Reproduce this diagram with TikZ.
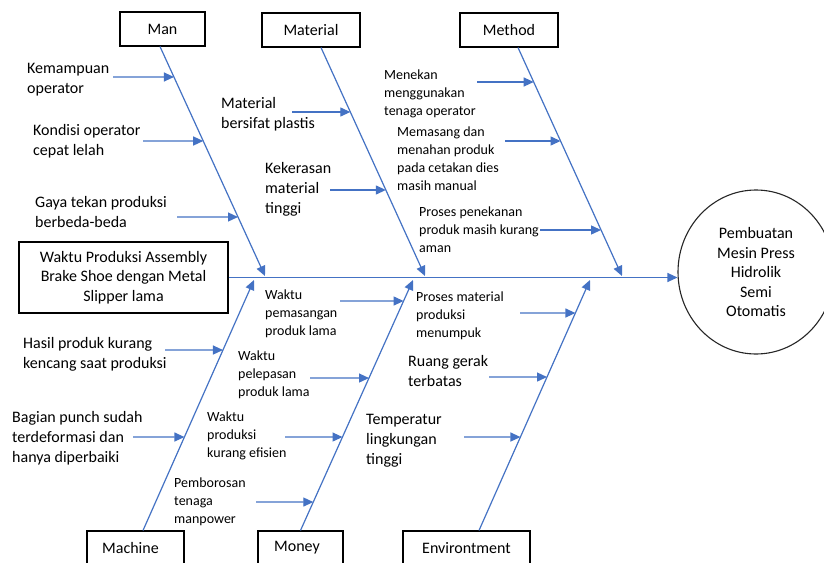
\documentclass[tikz,border=0pt]{standalone}
\usepackage{fontspec}
\setmainfont{Carlito}
\usetikzlibrary{arrows.meta,shapes.geometric}
\definecolor{bone}{HTML}{4472C4}
\begin{document}
\begin{tikzpicture}[x=1pt,y=-1pt,
  lbl/.style={font=\fontsize{16}{20}\selectfont,align=left,inner sep=0pt,anchor=base west},
  slbl/.style={font=\fontsize{14}{18.3}\selectfont,align=left,inner sep=0pt,anchor=base west},
  cat/.style={draw=black,line width=1.1pt,minimum height=34pt,inner sep=0pt,font=\fontsize{16}{20}\selectfont},
  bonel/.style={draw=bone,line width=1.2pt,-{Triangle[length=10pt,width=9pt]}},
  sub/.style={bonel}]
\useasboundingbox (0,0) rectangle (824,562);
\clip (0,0) rectangle (824,562);
\fill[white] (0,0) rectangle (824,562);

% category boxes
\node[cat,minimum width=85pt] (man) at (162.5,29) {Man};
\node[cat,minimum width=98pt] (mat) at (311,30) {Material};
\node[cat,minimum width=98pt] (meth) at (509,30) {Method};
\node[cat,minimum width=97pt] (mach) at (135.5,548) {\hspace*{-10pt}Machine};
\node[cat,minimum width=85pt] (money) at (300.5,548) {\hspace*{-7pt}Money};
\node[cat,minimum width=127pt] (env) at (466.5,548) {Environtment};

% problem and effect
\node[draw=black,line width=1.1pt,minimum width=209pt,minimum height=71pt,inner sep=0pt,align=center,font=\fontsize{16}{19.5}\selectfont] (prob) at (123.5,277.5) {Waktu Produksi Assembly\\Brake Shoe dengan Metal\\Slipper lama};
\node[ellipse,draw=black!85,line width=1.1pt,minimum width=156pt,minimum height=164pt,inner sep=0pt,align=center,font=\fontsize{16}{19.5}\selectfont] (eff) at (756,272) {Pembuatan\\Mesin Press\\Hidrolik\\Semi\\Otomatis};

% spine
\draw[bonel] (prob.east) -- (prob.east -| eff.west);

% bones
\coordinate (manS) at ([xshift=-2.5pt]man.south);
\coordinate (manT) at (265,276);
\coordinate (matS) at ([xshift=10pt]mat.south);
\coordinate (matT) at (425,276);
\coordinate (methS) at ([xshift=9pt]meth.south);
\coordinate (methT) at (622,276);
\coordinate (machS) at ([xshift=7.5pt]mach.north);
\coordinate (machT) at (254,280);
\coordinate (monS) at (money.north);
\coordinate (monT) at (413,280);
\coordinate (envS) at ([xshift=12.5pt]env.north);
\coordinate (envT) at (590,280);
\draw[bonel] (manS) -- (manT);
\draw[bonel] (matS) -- (matT);
\draw[bonel] (methS) -- (methT);
\draw[bonel] (machS) -- (machT);
\draw[bonel] (monS) -- (monT);
\draw[bonel] (envS) -- (envT);

% Man causes (anchor = baseline of last line)
\node[lbl] (c1) at (27,93) {Kemampuan\\operator};
\node[lbl] (c2) at (33,155) {Kondisi operator\\cepat lelah};
\node[lbl] (c3) at (35,227) {Gaya tekan produksi\\berbeda-beda};
\draw[sub] (113,77) -- (intersection of manS--manT and 113,77--200,77);
\draw[sub] (143,141) -- (intersection of manS--manT and 143,141--200,141);
\draw[sub] (177,217) -- (intersection of manS--manT and 177,217--200,217);

% Material causes
\node[lbl] (c4) at (221,128) {Material\\bersifat plastis};
\node[lbl] (c5) at (265,213) {Kekerasan\\material\\tinggi};
\draw[sub] (292,112) -- (intersection of matS--matT and 292,112--350,112);
\draw[sub] (330,190) -- (intersection of matS--matT and 330,190--380,190);

% Method causes
\node[slbl] (c6) at (384,115.6) {Menekan\\menggunakan\\tenaga operator};
\node[slbl] (c7) at (397,190.9) {Memasang dan\\menahan produk\\pada cetakan dies\\masih manual};
\node[slbl] (c8) at (419,252.6) {Proses penekanan\\produk masih kurang\\aman};
\draw[sub] (477,82) -- (intersection of methS--methT and 477,82--530,82);
\draw[sub] (505,141) -- (intersection of methS--methT and 505,141--560,141);
\draw[sub] (540,230) -- (intersection of methS--methT and 540,230--600,230);

% Machine causes
\node[lbl] (c9) at (23,368) {Hasil produk kurang\\kencang saat produksi};
\node[lbl] (c10) at (12,462) {Bagian punch sudah\\terdeformasi dan\\hanya diperbaiki};
\draw[sub] (165,350) -- (intersection of machS--machT and 165,350--220,350);
\draw[sub] (133,437) -- (intersection of machS--machT and 133,437--190,437);

% Money causes
\node[slbl] (c11) at (265,335.6) {Waktu\\pemasangan\\produk lama};
\node[slbl] (c12) at (238,396.6) {Waktu\\pelepasan\\produk lama};
\node[slbl] (c13) at (207,457.6) {Waktu\\produksi\\kurang efisien};
\node[slbl] (c14) at (174,523.6) {Pemborosan\\tenaga\\manpower};
\draw[sub] (340,301) -- (intersection of monS--monT and 340,301--400,301);
\draw[sub] (310,378) -- (intersection of monS--monT and 310,378--370,378);
\draw[sub] (285,437) -- (intersection of monS--monT and 285,437--340,437);
\draw[sub] (256,502) -- (intersection of monS--monT and 256,502--310,502);

% Environment causes
\node[slbl] (c15) at (416,337.6) {Proses material\\produksi\\menumpuk};
\node[lbl] (c16) at (408,386) {Ruang gerak\\terbatas};
\node[lbl] (c17) at (366,464) {Temperatur\\lingkungan\\tinggi};
\draw[sub] (520,313) -- (intersection of envS--envT and 520,313--575,313);
\draw[sub] (489,377) -- (intersection of envS--envT and 489,377--545,377);
\draw[sub] (464,437) -- (intersection of envS--envT and 464,437--520,437);
\end{tikzpicture}
\end{document}
